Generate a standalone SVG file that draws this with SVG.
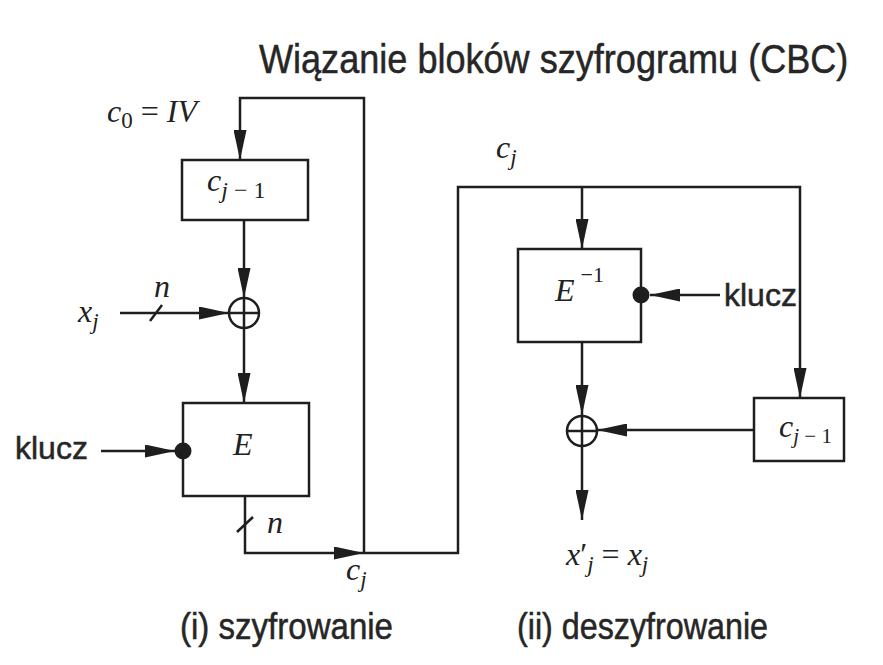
<svg xmlns="http://www.w3.org/2000/svg" width="883" height="665" viewBox="0 0 883 665">
<style>
.ln{fill:none;stroke:#1e1e1e;stroke-width:2.5}
.bx{fill:#fff;stroke:#1e1e1e;stroke-width:2.5}
.dot{fill:#1e1e1e}
.sans{font-family:"Liberation Sans",Arial,sans-serif;fill:#262626;stroke:#262626;stroke-width:0.5}
.math{font-family:"Liberation Serif","Times New Roman",serif;fill:#222;font-size:32px}
.it{font-style:italic}
</style>
<defs>
<marker id="ah" markerUnits="userSpaceOnUse" viewBox="0 0 30 13" markerWidth="30" markerHeight="13" refX="30" refY="6.5" orient="auto">
<path d="M0,0 L30,6.5 L0,13 z" fill="#1e1e1e"/>
</marker>
</defs>
<rect width="883" height="665" fill="#fff"/>
<g id="title">
<text class="sans" transform="translate(259,73) scale(0.88,1)" font-size="41">Wiązanie bloków szyfrogramu (CBC)</text>
</g>

<g id="connectors">
<path class="ln" d="M364,553 L364,98 L240,98 L240,160" marker-end="url(#ah)"/>
<path class="ln" d="M244,220 L244,298" marker-end="url(#ah)"/>
<path class="ln" d="M120,313 L229,313" marker-end="url(#ah)"/>
<path class="ln" d="M150,321 L162,305"/>
<path class="ln" d="M244,328 L244,403" marker-end="url(#ah)"/>
<path class="ln" d="M101,451 L175,451" marker-end="url(#ah)"/>
<path class="ln" d="M245,496 L245,553 L364,553" marker-end="url(#ah)"/>
<path class="ln" d="M237,532 L253,517"/>
<path class="ln" d="M364,553 L458,553 L458,187 L800,187 L800,398" marker-end="url(#ah)"/>
<path class="ln" d="M582,187 L582,249" marker-end="url(#ah)"/>
<path class="ln" d="M720,295 L650,295" marker-end="url(#ah)"/>
<path class="ln" d="M582,342 L582,415" marker-end="url(#ah)"/>
<path class="ln" d="M754,430 L597,430" marker-end="url(#ah)"/>
<path class="ln" d="M582,446 L582,520" marker-end="url(#ah)"/>
</g>

<g id="iv-label">
<text class="math" x="107" y="122" font-size="34"><tspan class="it">c</tspan><tspan font-size="23" dy="6">0</tspan><tspan dy="-6"> = </tspan><tspan class="it">IV</tspan></text>
</g>

<g id="cprev-enc">
<rect class="bx" x="182" y="160" width="126" height="60"/>
<text class="math" x="207" y="191" font-size="34"><tspan class="it">c</tspan><tspan font-size="24" dy="7"><tspan class="it">j</tspan> − 1</tspan></text>
</g>

<g id="xor-enc">
<circle class="ln" cx="244" cy="313" r="15"/>
<path class="ln" d="M229,313 H259 M244,298 V328"/>
</g>

<g id="xj-label">
<text class="math" x="78" y="322" font-size="34"><tspan class="it">x</tspan><tspan class="it" font-size="23" dy="7">j</tspan></text>
<text class="math it" x="154" y="297" font-size="34">n</text>
</g>

<g id="enc-E">
<rect class="bx" x="183" y="403" width="126" height="93"/>
<circle class="dot" cx="183" cy="451" r="8.5"/>
<text class="math it" x="233" y="455" font-size="35">E</text>
</g>

<g id="klucz-left">
<text class="sans" x="15" y="459" font-size="32">klucz</text>
</g>

<g id="enc-out-labels">
<text class="math it" x="267" y="533" font-size="34">n</text>
<text class="math" x="346" y="580" font-size="34"><tspan class="it">c</tspan><tspan class="it" font-size="23" dy="7">j</tspan></text>
</g>

<g id="cj-top">
<text class="math" x="496" y="158" font-size="34"><tspan class="it">c</tspan><tspan class="it" font-size="23" dy="7">j</tspan></text>
</g>

<g id="dec-E">
<rect class="bx" x="518" y="249" width="123" height="93"/>
<circle class="dot" cx="641" cy="295" r="8.5"/>
<text class="math" x="555" y="301" font-size="35"><tspan class="it">E</tspan><tspan font-size="22" dx="6" dy="-19">−1</tspan></text>
</g>

<g id="klucz-right">
<text class="sans" x="724" y="306" font-size="32">klucz</text>
</g>

<g id="xor-dec">
<circle class="ln" cx="582" cy="431" r="15"/>
<path class="ln" d="M567,431 H597 M582,416 V446"/>
</g>

<g id="cprev-dec">
<rect class="bx" x="754" y="398" width="90" height="63"/>
<text class="math" x="779" y="437" font-size="31"><tspan class="it">c</tspan><tspan font-size="21" dy="6"><tspan class="it">j</tspan> − 1</tspan></text>
</g>

<g id="out-label">
<text class="math" x="566" y="565" font-size="34"><tspan class="it">x</tspan><tspan>′</tspan><tspan class="it" font-size="23" dy="7">j</tspan><tspan dy="-7"> = </tspan><tspan class="it">x</tspan><tspan class="it" font-size="23" dy="7">j</tspan></text>
</g>

<g id="captions">
<text class="sans" x="180" y="639" font-size="36" textLength="213" lengthAdjust="spacingAndGlyphs">(i) szyfrowanie</text>
<text class="sans" x="517" y="639" font-size="36" textLength="251" lengthAdjust="spacingAndGlyphs">(ii) deszyfrowanie</text>
</g>
</svg>
